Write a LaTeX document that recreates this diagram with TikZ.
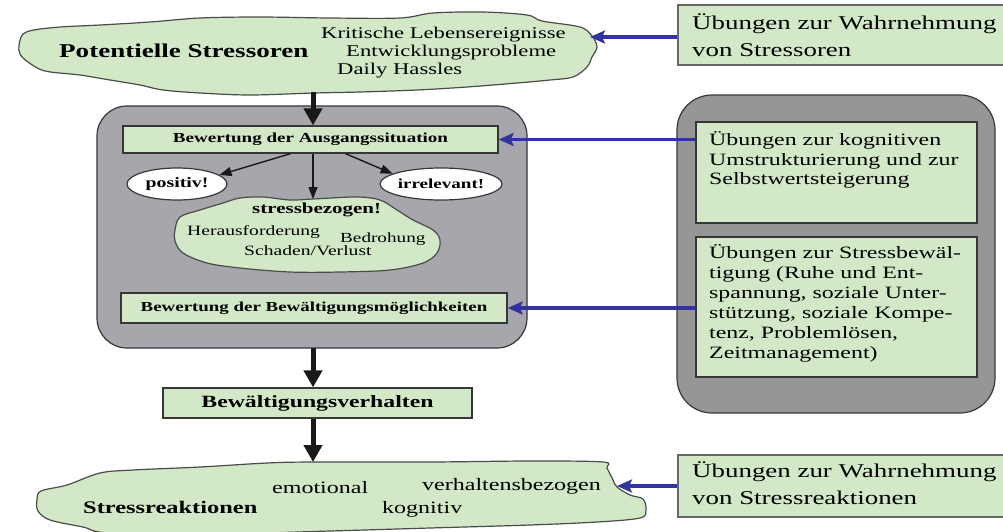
\documentclass[tikz,border=0pt]{standalone}
\usepackage{fontspec}
\setmainfont{Liberation Serif}[FakeStretch=1.38]
\usetikzlibrary{arrows.meta,shapes.geometric}

\definecolor{leaf}{RGB}{210,232,198}
\definecolor{panel}{RGB}{166,166,172}
\definecolor{panelR}{RGB}{150,150,150}
\definecolor{edge}{RGB}{55,55,55}
\definecolor{link}{RGB}{50,50,160}

\newcommand\pxsize[2]{\fontsize{#1}{#2}\selectfont}

\tikzset{
  txt/.style={inner sep=0pt, anchor=base west, text=black},
  cloudline/.style={draw=edge!90, fill=leaf, line width=1.2pt},
  panelbox/.style={draw=edge, line width=1.2pt, rounded corners=30pt},
  greenbox/.style={draw=edge, fill=leaf, line width=1.3pt, inner sep=0pt},
  outerbox/.style={draw=black!60, fill=leaf, line width=2.4pt, inner sep=0pt},
  oval/.style={ellipse, draw=edge, fill=white, line width=1.2pt, inner sep=0pt},
  bigarrow/.style={draw=black!90, line width=5pt, -{Triangle[length=17pt,width=18pt]}},
  thinarrow/.style={draw=black!90, line width=1.4pt, -{Triangle[length=12pt,width=9pt]}},
  bluearrow/.style={draw=link, line width=3.2pt, -{Stealth[length=15pt,width=13pt,inset=3pt]}},
}

\begin{document}
\begin{tikzpicture}[x=1pt,y=-1pt]
\useasboundingbox (0,0) rectangle (1003,531);
\clip (0,0) rectangle (1003,531);

% ---------- stressors cloud ----------
\draw[cloudline] plot[smooth cycle, tension=0.55] coordinates {
  (19,45) (23,34) (34,30) (60,27) (100,25) (150,22) (200,18) (260,17)
  (330,18) (400,18) (433,13) (483,12) (527,15) (542,21) (580,27) (592,36)
  (597,47) (592,57) (587,67) (573,77) (550,80) (517,83) (467,87) (417,90)
  (360,92) (314,93) (250,95) (200,93) (163,90) (140,85) (110,80) (80,75)
  (45,71) (28,62) (20,54)};
\coordinate (tcb) at (313,92);
\coordinate (tcr) at (590,37);
\node[txt, font=\bfseries\pxsize{19.6}{22}] (ps) at (59,57) {Potentielle Stressoren};
\node[txt, font=\pxsize{16.4}{18}] (ps1) at (321,38) {Kritische Lebensereignisse};
\node[txt, font=\pxsize{16.4}{18}] (ps2) at (346,56) {Entwicklungsprobleme};
\node[txt, font=\pxsize{16.4}{18}] (ps3) at (337,74) {Daily Hassles};

% ---------- appraisal panel ----------
\draw[panelbox, fill=panel] (97,106) rectangle (527,348);
\coordinate (pb) at (313,348);

\node[greenbox, minimum width=375pt, minimum height=27pt, font=\bfseries\pxsize{13.8}{16}]
  (ausg) at (310.5,139.5) {Bewertung der Ausgangssituation};
\node[oval, minimum width=100pt, minimum height=32pt, font=\bfseries\pxsize{14.4}{16}]
  (pos) at (177,184) {positiv!};
\node[oval, minimum width=98pt, minimum height=32pt, font=\bfseries\pxsize{13.8}{16}]
  (irr) at (441,184) {irrelevant!};

\draw[cloudline] plot[smooth cycle, tension=0.55] coordinates {
  (175,230) (180,217) (200,210) (223,203) (240,198) (263,197) (290,200)
  (313,199) (357,197) (380,200) (397,210) (413,220) (433,230) (440,240)
  (437,253) (423,263) (390,270) (340,272) (290,272) (240,268) (207,263)
  (183,253) (175,241)};
\coordinate (sct) at (313,199);
\node[txt, font=\bfseries\pxsize{15.2}{17}] (sb0) at (252,213) {stressbezogen!};
\node[txt, font=\pxsize{14.2}{16}] (sb1) at (187,235) {Herausforderung};
\node[txt, font=\pxsize{13.9}{16}] (sb2) at (340,242) {Bedrohung};
\node[txt, font=\pxsize{14.2}{16}] (sb3) at (244,255) {Schaden/Verlust};

\draw[thinarrow] ([xshift=-20pt]ausg.south) -- (pos.12);
\draw[thinarrow] (ausg.south -| sct) -- (sct);
\draw[thinarrow] ([xshift=35pt]ausg.south) -- (irr.168);

\node[greenbox, minimum width=386pt, minimum height=30pt, font=\bfseries\pxsize{13.7}{16}]
  (bm) at (314,308) {Bewertung der Bewältigungsmöglichkeiten};

\draw[bigarrow] (tcb) -- (tcb |- ausg.north);

% ---------- coping behaviour ----------
\node[greenbox, minimum width=309pt, minimum height=30pt, font=\bfseries\pxsize{17.2}{19}]
  (bv) at (317.5,403) {Bewältigungsverhalten};
\draw[bigarrow] (pb) -- (pb |- bv.north);

% ---------- reactions cloud ----------
\draw[cloudline] plot[smooth cycle, tension=0.55] coordinates {
  (37,500) (41,491) (67,485) (100,473) (133,470) (200,467) (267,463)
  (312,462) (430,462) (530,461) (603,462) (607,468) (613,480) (617,487)
  (630,495) (643,499) (646,510) (640,518) (597,522) (530,525) (430,528)
  (330,531) (220,534) (110,533) (83,527) (50,520) (38,511)};
\coordinate (bct) at (313,462);
\coordinate (bcr) at (617,486);
\node[txt, font=\bfseries\pxsize{17.7}{20}] (sr) at (83,513) {Stressreaktionen};
\node[txt, font=\pxsize{17.4}{20}] (sr1) at (272,493) {emotional};
\node[txt, font=\pxsize{17.4}{20}] (sr2) at (422,490) {verhaltensbezogen};
\node[txt, font=\pxsize{17.4}{20}] (sr3) at (382,513) {kognitiv};
\draw[bigarrow] (bv.south -| bct) -- (bct);

% ---------- training panel (right) ----------
\draw[panelbox, fill=panelR, rounded corners=35pt] (677,95) rectangle (995,413);
\node[greenbox, minimum width=281pt, minimum height=101pt] (kb) at (836.5,172.5) {};
\node[txt, font=\pxsize{17.3}{20}] (kb1) at (709,145) {Übungen zur kognitiven};
\node[txt, font=\pxsize{17.3}{20}] (kb2) at (709,165) {Umstrukturierung und zur};
\node[txt, font=\pxsize{17.3}{20}] (kb3) at (709,184) {Selbstwertsteigerung};

\node[greenbox, minimum width=281pt, minimum height=140pt] (cb) at (836.5,307) {};
\node[txt, font=\pxsize{17.3}{20}] (cb1) at (709,258) {Übungen zur Stressbewäl-};
\node[txt, font=\pxsize{17.3}{20}] (cb2) at (709,278) {tigung (Ruhe und Ent-};
\node[txt, font=\pxsize{17.3}{20}] (cb3) at (709,298) {spannung, soziale Unter-};
\node[txt, font=\pxsize{17.3}{20}] (cb4) at (709,318) {stützung, soziale Kompe-};
\node[txt, font=\pxsize{17.3}{20}] (cb5) at (709,338) {tenz, Problemlösen,};
\node[txt, font=\pxsize{17.3}{20}] (cb6) at (709,358) {Zeitmanagement)};

% ---------- perception trainings ----------
\node[outerbox, minimum width=336pt, minimum height=60pt] (ub1) at (846,35) {};
\node[txt, font=\pxsize{19.5}{27}] (ub1a) at (692,29) {Übungen zur Wahrnehmung};
\node[txt, font=\pxsize{19.5}{27}] (ub1b) at (692,56) {von Stressoren};

\node[outerbox, minimum width=336pt, minimum height=62pt] (ub2) at (846,486) {};
\node[txt, font=\pxsize{19.5}{27}] (ub2a) at (692,477) {Übungen zur Wahrnehmung};
\node[txt, font=\pxsize{19.5}{27}] (ub2b) at (692,504) {von Stressreaktionen};

% ---------- training links ----------
\draw[bluearrow] (tcr -| ub1.west) -- (tcr);
\draw[bluearrow] (ausg.east -| kb.west) -- (ausg.east);
\draw[bluearrow] (bm.east -| cb.west) -- (bm.east);
\draw[bluearrow] (bcr -| ub2.west) -- (bcr);
\end{tikzpicture}
\end{document}
